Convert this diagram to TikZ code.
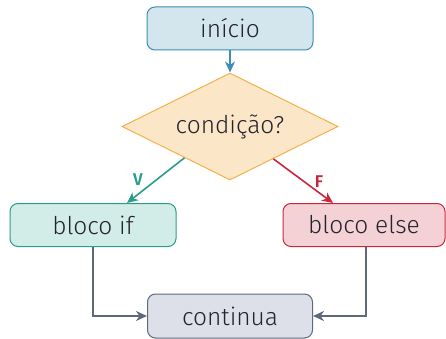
\documentclass[tikz,border=0pt]{standalone}
\usepackage{fontspec}
\setmainfont{Fira Sans}[UprightFont=* Light, BoldFont=* SemiBold]
\usetikzlibrary{shapes.geometric,arrows.meta,calc}
\definecolor{txt}{HTML}{23232F}
\definecolor{blueline}{HTML}{3A8DB4}
\definecolor{bluefill}{HTML}{D3E6EE}
\definecolor{orgline}{HTML}{F4B04A}
\definecolor{orgfill}{HTML}{FCE6C8}
\definecolor{tealline}{HTML}{2A9D8C}
\definecolor{tealfill}{HTML}{D2EDE8}
\definecolor{redline}{HTML}{C9283C}
\definecolor{redfill}{HTML}{F3D1D5}
\definecolor{grayline}{HTML}{5E697A}
\definecolor{grayfill}{HTML}{DDE0E8}
\tikzset{
  x=1pt, y=-1pt,
  box/.style={draw, rounded corners=8pt, line width=1pt, minimum height=43pt,
    minimum width=166pt, inner sep=0pt, text=txt, font=\fontsize{24.5}{28}\selectfont},
  arr/.style={line width=1.6pt, -{Stealth[length=11pt,width=10pt,inset=3.5pt]}},
  lbl/.style={font=\bfseries\fontsize{17}{19}\selectfont, inner sep=0pt}
}
\begin{document}
\begin{tikzpicture}
\useasboundingbox (0,0) rectangle (446,339);
\node[box, draw=blueline, fill=bluefill] (ini) at (230,28.5) {início};
\node[draw=orgline, fill=orgfill, line width=1pt, shape=diamond, aspect=2,
  minimum width=216pt, minimum height=107pt, inner sep=0pt, text=txt,
  font=\fontsize{24.5}{28}\selectfont] (cond) at (230,126.5) {condição?};
\node[box, draw=tealline, fill=tealfill] (bif) at (93,225) {bloco if};
\node[box, draw=redline, fill=redfill, minimum width=162pt] (belse) at (364,225) {bloco else};
\node[box, draw=grayline, fill=grayfill, minimum width=165pt, minimum height=44pt] (cont) at (230,316) {continua};

\draw[arr, blueline] (ini.south) -- (cond.north);
\coordinate (vs) at ($(cond.west)!0.58!(cond.south)$);
\coordinate (fs) at ($(cond.east)!0.6!(cond.south)$);
\draw[arr, tealline] (vs) -- ([xshift=34pt]bif.north);
\draw[arr, redline] (fs) -- ([xshift=-31pt]belse.north);
\node[lbl, text=tealline] (lv) at (138,180) {V};
\node[lbl, text=redline] (lf) at (319,182) {F};

\draw[arr, grayline] (bif.south) |- (cont.west);
\draw[arr, grayline] ([xshift=2pt]belse.south) |- (cont.east);
\end{tikzpicture}
\end{document}
